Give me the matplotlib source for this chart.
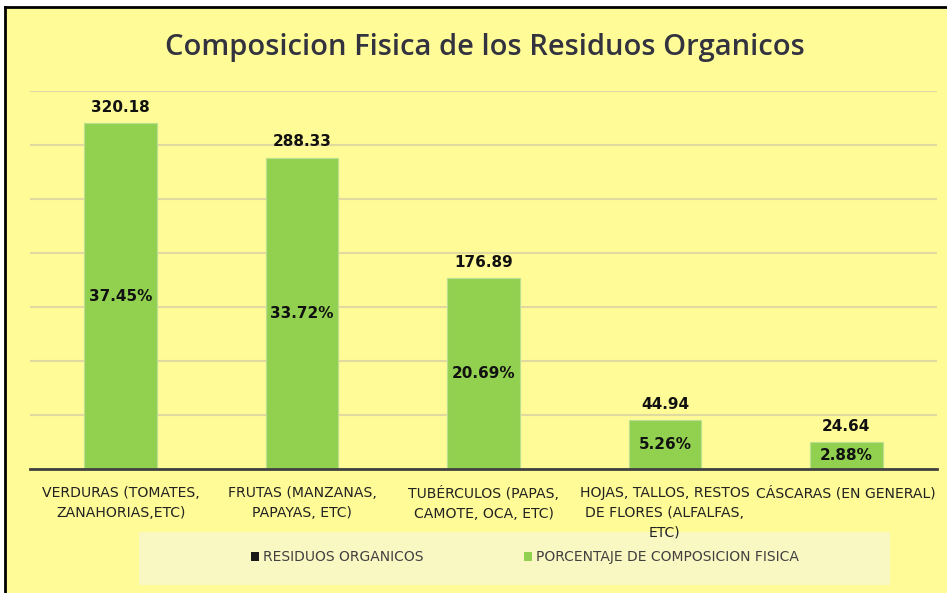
import matplotlib
matplotlib.use("Agg")
import matplotlib.pyplot as plt
from matplotlib.lines import Line2D
from matplotlib.patches import Rectangle, Patch
from matplotlib import font_manager as fm

categories = ["VERDURAS (TOMATES,\nZANAHORIAS,ETC)",
              "FRUTAS (MANZANAS,\nPAPAYAS, ETC)",
              "TUBÉRCULOS (PAPAS,\nCAMOTE, OCA, ETC)",
              "HOJAS, TALLOS, RESTOS\nDE FLORES (ALFALFAS,\nETC)",
              "CÁSCARAS (EN GENERAL)"]
residuos = [320.18, 288.33, 176.89, 44.94, 24.64]
porcentaje = [37.45, 33.72, 20.69, 5.26, 2.88]
series_names = ["RESIDUOS ORGANICOS", "PORCENTAJE DE COMPOSICION FISICA"]
title = "Composicion Fisica de los Residuos Organicos"

names = {f.name for f in fm.fontManager.ttflist}
narrow = "Liberation Sans Narrow" if "Liberation Sans Narrow" in names else "DejaVu Sans"
plt.rcParams['font.family'] = [narrow, 'DejaVu Sans']

bg = "#FFFB97"
green = "#92D050"

fig = plt.figure(figsize=(9.47, 5.93), dpi=100, facecolor="white")
fig.patches.append(Rectangle((5/947, 0), 1, 1 - 7/593, transform=fig.transFigure,
                             facecolor=bg, edgecolor="none", zorder=-10))
fig.add_artist(Line2D([5/947, 5/947], [0, 1 - 7/593], color="black", lw=2, transform=fig.transFigure))
fig.add_artist(Line2D([5/947, 1], [1 - 7/593, 1 - 7/593], color="black", lw=2, transform=fig.transFigure))

# legend background panel
fig.patches.append(Rectangle((139/947, 1 - 585/593), 751/947, 53/593, transform=fig.transFigure,
                             facecolor="#FAF8C2", edgecolor="none", zorder=-5))

ax = fig.add_axes([30/947, 124/593, 907/947, 378/593])
ax.set_facecolor("none")
x = list(range(len(categories)))
bars = ax.bar(x, residuos, width=0.4, color=green, edgecolor="#B8E090", linewidth=0.8, zorder=3)
ax.set_ylim(0, 350)
ax.set_xlim(-0.5, len(categories) - 0.5)
ax.set_yticks(range(0, 351, 50))
ax.yaxis.grid(True, color="#E0D9A0", linewidth=1.5, zorder=0)
ax.tick_params(axis="y", left=False, labelleft=False)
ax.tick_params(axis="x", bottom=False, pad=9)
for s in ["left", "right", "top"]:
    ax.spines[s].set_visible(False)
ax.spines["bottom"].set_color("#404040")
ax.spines["bottom"].set_linewidth(2)
ax.spines["bottom"].set_zorder(4)
ax.set_xticks(x)
ax.set_xticklabels(categories, fontsize=10.1, color="#222222", linespacing=1.5)

for xi, v, p in zip(x, residuos, porcentaje):
    ax.annotate(f"{v:.2f}", (xi, v), xytext=(0, 6), textcoords="offset points",
                ha="center", va="bottom", fontsize=11, fontweight="bold", color="#111111")
    ax.text(xi, v / 2, f"{p:.2f}%", ha="center", va="center", fontsize=11,
            fontweight="bold", color="#111111", zorder=5)

fig.text(485/947, 1 - 48/593, title, ha="center", va="center", fontsize=21,
         color="#33333F", family=["Open Sans", "DejaVu Sans"], fontweight="semibold")

handles = [Patch(facecolor="#1A1A1A", edgecolor="none"), Patch(facecolor=green, edgecolor="none")]
leg = fig.legend(handles, series_names, loc="center", bbox_to_anchor=(525/947, 1 - 557/593),
                 ncol=2, frameon=False, fontsize=10, handlelength=0.6, handleheight=0.6,
                 handletextpad=0.3, columnspacing=7.2, borderpad=0, borderaxespad=0)
for t in leg.get_texts():
    t.set_color("#404040")

fig.savefig("out.png", dpi=100, facecolor=fig.get_facecolor())
